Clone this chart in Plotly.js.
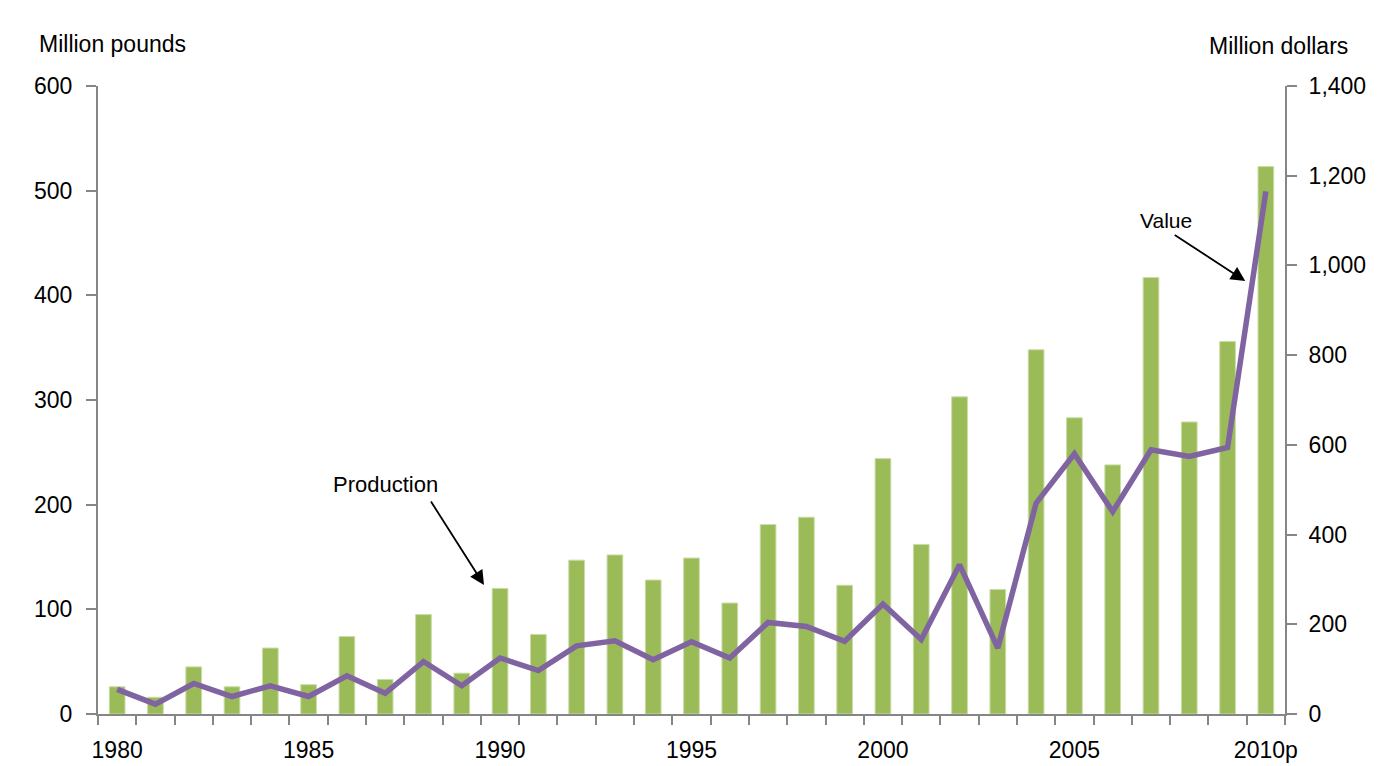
<!DOCTYPE html>
<html>
<head>
<meta charset="utf-8">
<script src="https://cdn.plot.ly/plotly-3.0.1.min.js"></script>
<style>html,body{margin:0;padding:0;background:#fff;}#chart{width:1385px;height:766px;}</style>
</head>
<body>
<div id="chart"></div>
<script>
const years = ["1980","1981","1982","1983","1984","1985","1986","1987","1988","1989",
  "1990","1991","1992","1993","1994","1995","1996","1997","1998","1999",
  "2000","2001","2002","2003","2004","2005","2006","2007","2008","2009","2010p"];
const tickLabels = ["1980","","","","","1985","","","","",
  "1990","","","","","1995","","","","",
  "2000","","","","","2005","","","","","2010p"];
// Production, million pounds (left axis)
const production = [26,16,45,26,63,28,74,33,95,39,
  120,76,147,152,128,149,106,181,188,123,
  244,162,303,119,348,283,238,417,279,356,523];
// Value, million dollars (right axis)
const value = [55,22,68,39,63,39,85,46,117,63,
  125,97,152,163,121,161,125,204,195,162,
  245,166,333,147,470,580,451,589,574,594,1165];

const font = "Liberation Sans, Arial, sans-serif";
const axisGrey = "#868686";

const traces = [
  {
    type: "bar", x: years, y: production, name: "Production", yaxis: "y",
    marker: {color: "#9BBB59", line: {color: "#C9DDA6", width: 1}},
    hoverinfo: "x+y"
  },
  {
    type: "scatter", mode: "lines", x: years, y: value, name: "Value", yaxis: "y2",
    line: {color: "#8064A2", width: 5.5}
  }
];

const layout = {
  width: 1385, height: 766,
  margin: {l: 98, r: 100, t: 86, b: 52},
  paper_bgcolor: "#fff", plot_bgcolor: "#fff",
  showlegend: false,
  bargap: 0.59,
  font: {family: font, color: "#000", size: 22},
  xaxis: {
    type: "category",
    tickmode: "array", tickvals: years, ticktext: tickLabels,
    tickson: "boundaries", tickangle: 0,
    ticks: "outside", ticklen: 9, tickwidth: 2, tickcolor: axisGrey,
    showline: true, linecolor: axisGrey, linewidth: 2,
    showgrid: false, zeroline: false,
    tickfont: {size: 23, family: font},
    ticklabelstandoff: 14
  },
  yaxis: {
    range: [0, 600], dtick: 100, tick0: 0,
    ticks: "outside", ticklen: 10, tickwidth: 2, tickcolor: axisGrey,
    showline: true, linecolor: axisGrey, linewidth: 2,
    showgrid: false, zeroline: false,
    tickfont: {size: 23, family: font},
    ticklabelstandoff: 9
  },
  yaxis2: {
    overlaying: "y", side: "right",
    range: [0, 1400], dtick: 200, tick0: 0,
    tickformat: ",d",
    ticks: "outside", ticklen: 10, tickwidth: 2, tickcolor: axisGrey,
    showline: true, linecolor: axisGrey, linewidth: 2,
    showgrid: false, zeroline: false,
    tickfont: {size: 23, family: font},
    ticklabelstandoff: 7
  },
  annotations: [
    {text: "Million pounds", xref: "paper", yref: "paper", x: -0.0514, y: 1.067,
     xanchor: "left", yanchor: "middle", showarrow: false, font: {size: 23, family: font}},
    {text: "Million dollars", xref: "paper", yref: "paper", x: 0.934, y: 1.064,
     xanchor: "left", yanchor: "middle", showarrow: false, font: {size: 23, family: font}},
    {text: "Production", xref: "paper", yref: "paper", x: 0.2426, y: 0.366,
     xanchor: "center", yanchor: "middle", showarrow: false, font: {size: 22, family: font}},
    {text: "Value", xref: "paper", yref: "paper", x: 0.8997, y: 0.786,
     xanchor: "center", yanchor: "middle", showarrow: false, font: {size: 21, family: font}},
    {text: "", xref: "paper", yref: "paper", x: 0.9665, y: 0.6895, ax: -72, ay: -47,
     showarrow: true, arrowhead: 2, arrowsize: 1.6, arrowwidth: 1.8, arrowcolor: "#000"},
    {text: "", xref: "paper", yref: "paper", x: 0.3252, y: 0.2054, ax: -54, ay: -85,
     showarrow: true, arrowhead: 2, arrowsize: 1.6, arrowwidth: 1.8, arrowcolor: "#000"}
  ]
};

Plotly.newPlot("chart", traces, layout, {displayModeBar: false, staticPlot: true});
</script>
</body>
</html>
